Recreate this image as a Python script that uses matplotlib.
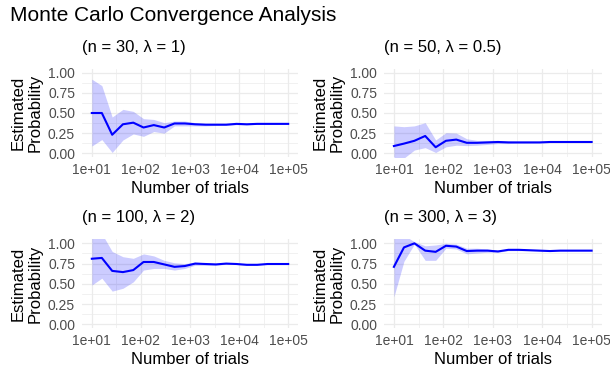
import matplotlib
matplotlib.use("Agg")
import matplotlib.pyplot as plt
import numpy as np
from matplotlib.ticker import FixedLocator, FixedFormatter

plt.rcParams['font.family'] = ['Liberation Sans', 'DejaVu Sans']

trials = [10, 16, 26, 43, 70, 113, 183, 298, 483, 785, 1274, 2069,
          3360, 5456, 8859, 14384, 23357, 37927, 61585, 100000]

titles = ["(n = 30, λ = 1)", "(n = 50, λ = 0.5)",
          "(n = 100, λ = 2)", "(n = 300, λ = 3)"]

est_1 = [0.50, 0.50, 0.23, 0.36, 0.38, 0.32, 0.35, 0.32, 0.37, 0.37, 0.36, 0.355,
         0.355, 0.355, 0.365, 0.36, 0.365, 0.365, 0.365, 0.365]
lo_1 = [0.09, 0.17, 0.01, 0.165, 0.24, 0.21, 0.27, 0.25, 0.34, 0.34, 0.34, 0.34,
        0.345, 0.345, 0.355, 0.352, 0.359, 0.36, 0.361, 0.362]
hi_1 = [0.92, 0.84, 0.45, 0.545, 0.52, 0.43, 0.42, 0.38, 0.40, 0.40, 0.38, 0.37,
        0.365, 0.365, 0.375, 0.368, 0.371, 0.37, 0.369, 0.368]

est_2 = [0.09, 0.12, 0.155, 0.215, 0.075, 0.155, 0.17, 0.13, 0.13, 0.135, 0.14, 0.135,
         0.135, 0.135, 0.135, 0.14, 0.14, 0.14, 0.14, 0.14]
lo_2 = [-0.09, -0.06, 0.04, 0.07, 0.01, 0.08, 0.10, 0.095, 0.10, 0.11, 0.12, 0.12,
        0.125, 0.126, 0.128, 0.134, 0.136, 0.137, 0.138, 0.138]
hi_2 = [0.34, 0.33, 0.34, 0.38, 0.165, 0.255, 0.25, 0.18, 0.16, 0.16, 0.16, 0.15,
        0.145, 0.144, 0.142, 0.146, 0.144, 0.143, 0.142, 0.142]

est_3 = [0.81, 0.82, 0.66, 0.645, 0.67, 0.77, 0.77, 0.74, 0.71, 0.72, 0.75, 0.745,
         0.74, 0.75, 0.745, 0.735, 0.735, 0.745, 0.745, 0.745]
lo_3 = [0.485, 0.57, 0.41, 0.445, 0.525, 0.67, 0.69, 0.69, 0.67, 0.69, 0.73, 0.73,
        0.73, 0.742, 0.739, 0.73, 0.731, 0.742, 0.743, 0.743]
hi_3 = [1.08, 1.12, 0.90, 0.835, 0.815, 0.87, 0.845, 0.79, 0.76, 0.75, 0.77, 0.76,
        0.75, 0.758, 0.751, 0.74, 0.739, 0.748, 0.747, 0.747]

est_4 = [0.71, 0.95, 1.0, 0.91, 0.895, 0.97, 0.96, 0.905, 0.91, 0.91, 0.90, 0.92,
         0.92, 0.915, 0.91, 0.905, 0.91, 0.91, 0.91, 0.91]
lo_4 = [0.34, 0.78, 0.99, 0.79, 0.79, 0.94, 0.93, 0.87, 0.88, 0.89, 0.89, 0.91,
        0.91, 0.91, 0.906, 0.902, 0.908, 0.908, 0.909, 0.909]
hi_4 = [1.08, 1.10, 1.02, 0.97, 0.98, 1.0, 0.99, 0.94, 0.94, 0.93, 0.915, 0.93,
        0.93, 0.92, 0.914, 0.908, 0.912, 0.912, 0.911, 0.911]

series = [(est_1, lo_1, hi_1), (est_2, lo_2, hi_2),
          (est_3, lo_3, hi_3), (est_4, lo_4, hi_4)]

xticks = [1e1, 1e2, 1e3, 1e4, 1e5]
xlabels = ["1e+01", "1e+02", "1e+03", "1e+04", "1e+05"]
yticks = [0, 0.25, 0.5, 0.75, 1.0]
ylabels = ["0.00", "0.25", "0.50", "0.75", "1.00"]

fig = plt.figure(figsize=(6.1, 3.69), dpi=100)
W, H = 610, 369

# panel boxes in pixels: left, top, right, bottom
boxes = [(82, 68.7, 298, 157.3), (384, 68.7, 601.5, 157.3),
         (82, 239.3, 298, 328.4), (384, 239.3, 601.5, 328.4)]

grey = "#4D4D4D"
for i, (b, (est, lo, hi)) in enumerate(zip(boxes, series)):
    l, t, r, bt = b
    ax = fig.add_axes([l / W, 1 - bt / H, (r - l) / W, (bt - t) / H])
    ax.fill_between(trials, lo, hi, color="blue", alpha=0.2, linewidth=0)
    ax.plot(trials, est, color="blue", linewidth=1.5)
    ax.set_xscale("log")
    ax.set_xlim(10 ** 0.8, 10 ** 5.2)
    ax.set_ylim(-0.05, 1.05)
    ax.xaxis.set_major_locator(FixedLocator(xticks))
    ax.xaxis.set_major_formatter(FixedFormatter(xlabels))
    ax.xaxis.set_minor_locator(FixedLocator([10 ** 1.5, 10 ** 2.5, 10 ** 3.5, 10 ** 4.5]))
    ax.xaxis.set_minor_formatter(FixedFormatter([]))
    ax.set_yticks(yticks)
    ax.set_yticklabels(ylabels)
    ax.set_yticks([0.125, 0.375, 0.625, 0.875], minor=True)
    ax.grid(True, which="major", color="#EBEBEB", linewidth=0.9)
    ax.grid(True, which="minor", color="#EBEBEB", linewidth=0.5)
    ax.set_axisbelow(True)
    for s in ax.spines.values():
        s.set_visible(False)
    ax.tick_params(which="both", length=0, labelsize=10, labelcolor=grey)
    ax.tick_params(axis="x", pad=4)
    ax.tick_params(axis="y", pad=5)
    ax.set_xlabel("Number of trials", fontsize=12, labelpad=3)
    ax.set_ylabel("Estimated\nProbability", fontsize=12, labelpad=4, linespacing=1.15)
    fig.text(l / W, 1 - (t - 17) / H, titles[i], fontsize=12,
             ha="left", va="baseline")

fig.text(10 / W, 1 - 21 / H, "Monte Carlo Convergence Analysis", fontsize=15,
         ha="left", va="baseline")

fig.savefig("out.png", dpi=100, facecolor="white")
